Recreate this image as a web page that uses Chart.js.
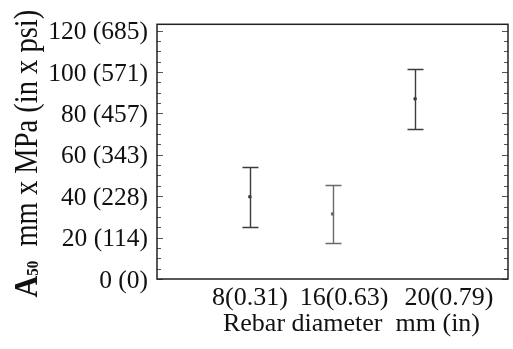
<!DOCTYPE html>
<html>
<head>
<meta charset="utf-8">
<script src="https://cdn.jsdelivr.net/npm/chart.js@4.4.0/dist/chart.umd.min.js"></script>
<style>
  html, body { margin: 0; padding: 0; background: #fff; }
  #wrap { width: 513px; height: 349px; }
</style>
</head>
<body>
<div id="wrap"><canvas id="a50-chart"></canvas></div>
<script>
// Rebar diameters: x position of each group and its label
const groupPos = [1, 2, 3];
const groupLabels = ['8(0.31)', '16(0.63)', '20(0.79)'];
const labelPos = [1.0, 2.14, 3.41];

// A50 mean and error bar limits (mm x MPa)
const a50Mean = [39.7, 31.4, 87.0];
const a50Low = [25.1, 17.2, 72.5];
const a50High = [54.1, 45.5, 101.4];
const barColors = ['#3c3c3c', '#6a6a6a', '#3c3c3c'];

// y axis ticks, MPa value and (psi) equivalent
const yTicks = [0, 20, 40, 60, 80, 100, 120];
const yTickLabels = ['0 (0)', '20 (114)', '40 (228)', '60 (343)', '80 (457)', '100 (571)', '120 (685)'];
const yMinorStep = 5;

const serif = '"Liberation Serif", "Times New Roman", serif';

// error bars, inward ticks, frame and the axis titles
const plotDecor = {
    id: 'plotDecor',
    beforeDatasetsDraw(chart) {
        const ctx = chart.ctx, a = chart.chartArea;
        const xs = chart.scales.x, ys = chart.scales.y;
        ctx.save();

        // tick marks on left and right edges
        ctx.strokeStyle = '#555';
        ctx.lineWidth = 1;
        for (let v = yTicks[0]; v <= yTicks[yTicks.length - 1]; v += yMinorStep) {
            const y = Math.round(ys.getPixelForValue(v)) + 0.5;
            const len = yTicks.includes(v) ? 6 : 4;
            ctx.beginPath();
            ctx.moveTo(a.left, y); ctx.lineTo(a.left + len, y);
            ctx.moveTo(a.right, y); ctx.lineTo(a.right - len, y);
            ctx.stroke();
        }

        // error bars
        ctx.lineWidth = 1.4;
        groupPos.forEach(function(p, i) {
            const x = Math.round(xs.getPixelForValue(p)) + 0.5;
            const yHi = Math.round(ys.getPixelForValue(a50High[i])) + 0.5;
            const yLo = Math.round(ys.getPixelForValue(a50Low[i])) + 0.5;
            ctx.strokeStyle = barColors[i];
            ctx.beginPath();
            ctx.moveTo(x, yHi); ctx.lineTo(x, yLo);
            ctx.moveTo(x - 8, yHi); ctx.lineTo(x + 8, yHi);
            ctx.moveTo(x - 8, yLo); ctx.lineTo(x + 8, yLo);
            ctx.stroke();
        });

        // frame
        ctx.strokeStyle = '#222';
        ctx.lineWidth = 1.5;
        ctx.strokeRect(a.left, a.top, a.right - a.left, a.bottom - a.top);
        ctx.restore();
    },
    afterDraw(chart) {
        const ctx = chart.ctx, a = chart.chartArea;
        ctx.save();
        ctx.fillStyle = '#111';

        // x title
        ctx.font = '26px ' + serif;
        ctx.textAlign = 'center';
        ctx.textBaseline = 'middle';
        ctx.fillText('Rebar diameter  mm (in)', (a.left + a.right) / 2 + 19, a.bottom + 45);

        // y title, rotated: bold A with subscript 50
        const parts = [
            { t: 'A', f: 'bold 30px ' + serif, dy: 0 },
            { t: '50', f: 'bold 15px ' + serif, dy: 1 },
            { t: '  mm x MPa (in x psi)', f: '28.5px ' + serif, dy: 0 }
        ];
        let total = 0;
        parts.forEach(function(pt) { ctx.font = pt.f; pt.w = ctx.measureText(pt.t).width; total += pt.w; });
        ctx.translate(37, (a.top + a.bottom) / 2 + 2);
        ctx.rotate(-Math.PI / 2);
        ctx.scale(1, 1.15);
        ctx.textAlign = 'left';
        ctx.textBaseline = 'alphabetic';
        let cx = -total / 2;
        parts.forEach(function(pt) {
            ctx.font = pt.f;
            ctx.fillText(pt.t, cx, pt.dy);
            cx += pt.w;
        });
        ctx.restore();
    }
};

function chartA50() {
    var ctx = document.getElementById('a50-chart');

    const data = {
        datasets: [{
            label: 'A50',
            data: groupPos.map(function(p, i) { return { x: p, y: a50Mean[i] }; }),
            pointRadius: 1.6,
            pointStyle: 'rect',
            backgroundColor: barColors,
            borderColor: barColors,
            borderWidth: 1
        }]
    };

    const config = {
        type: 'scatter',
        data: data,
        options: {
            responsive: true,
            maintainAspectRatio: false,
            animation: false,
            layout: { padding: { top: 22, right: 2, left: 0, bottom: 0 } },
            plugins: {
                legend: { display: false },
                tooltip: { enabled: false },
                title: { display: false }
            },
            scales: {
                x: {
                    type: 'linear',
                    min: -0.125,
                    max: 4.125,
                    grid: { display: false, drawTicks: false },
                    border: { display: false },
                    afterBuildTicks: function(scale) {
                        scale.ticks = labelPos.map(function(v) { return { value: v }; });
                    },
                    afterFit: function(scale) { scale.height = 70; },
                    ticks: {
                        autoSkip: false,
                        maxRotation: 0,
                        padding: 4,
                        color: '#111',
                        font: { family: serif, size: 26 },
                        callback: function(value, index) { return groupLabels[index]; }
                    }
                },
                y: {
                    min: 0,
                    max: 123,
                    grid: { display: false, drawTicks: false },
                    border: { display: false },
                    afterBuildTicks: function(scale) {
                        scale.ticks = yTicks.map(function(v) { return { value: v }; });
                    },
                    afterFit: function(scale) { scale.width = 157; },
                    ticks: {
                        autoSkip: false,
                        padding: 9,
                        labelOffset: 2,
                        color: '#111',
                        font: { family: serif, size: 25.5 },
                        callback: function(value, index) { return yTickLabels[index]; }
                    }
                }
            }
        },
        plugins: [plotDecor]
    };

    var myChart = new Chart(ctx, config);
}

chartA50();
</script>
</body>
</html>
